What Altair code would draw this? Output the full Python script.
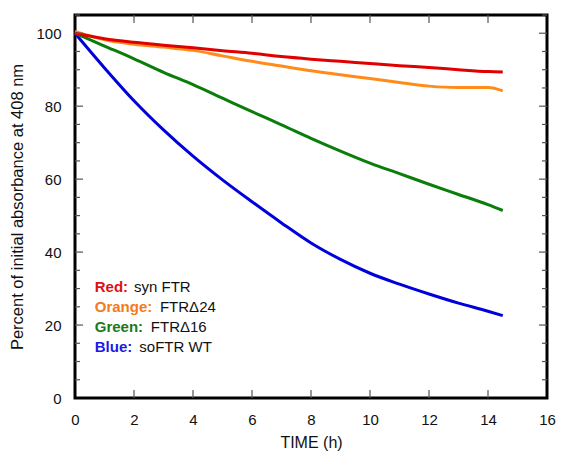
import altair as alt
import pandas as pd

# ---- data ----
hours = [0, 1, 2, 3, 4, 5, 6, 7, 8, 9, 10, 11, 12, 13, 14, 14.5]
red = [100, 98.5, 97.5, 96.7, 96.0, 95.2, 94.5, 93.6, 92.9, 92.3, 91.7, 91.1, 90.6, 90.0, 89.5, 89.4]
orange = [100.5, 98.2, 97.0, 96.2, 95.3, 93.8, 92.3, 91.0, 89.7, 88.6, 87.6, 86.5, 85.5, 85.1, 85.1, 84.2]
green = [100, 96.5, 93.0, 89.3, 85.9, 82.2, 78.5, 74.9, 71.2, 67.7, 64.4, 61.5, 58.6, 55.8, 53.0, 51.4]
blue = [100, 90.5, 81.5, 73.5, 66.3, 59.8, 53.8, 48.0, 42.5, 38.0, 34.2, 31.2, 28.5, 26.0, 23.8, 22.6]

series_names = ["Blue", "Green", "Orange", "Red"]
series_values = [blue, green, orange, red]
line_colors = ["#0000DD", "#0A7D0A", "#FF8C1A", "#E00000"]

legend_prefix = ["Red:", "Orange:", "Green:", "Blue:"]
legend_rest = ["syn FTR", "FTR\u039424", "FTR\u039416", "soFTR WT"]
legend_colors = ["#DD1111", "#F47A20", "#1A7A1A", "#1A1AE6"]
legend_y = [30.4, 24.9, 19.5, 14.0]
legend_x = [0.67, 0.67, 0.67, 0.67]
legend_x2 = [2.0, 2.88, 2.57, 2.18]

x_ticks = [0, 2, 4, 6, 8, 10, 12, 14, 16]
y_major = [0, 20, 40, 60, 80, 100]
y_minor = [5, 10, 15, 25, 30, 35, 45, 50, 55, 65, 70, 75, 85, 90, 95, 105]

W, H = 472, 383
FONT = "Liberation Sans"

xscale = alt.Scale(domain=[0, 16], nice=False, zero=False)
yscale = alt.Scale(domain=[0, 105], nice=False)

xaxis = alt.Axis(values=x_ticks, ticks=False, tickSize=0, domain=False, grid=False,
                 labelFontSize=15, labelFont=FONT, labelColor="#111", labelPadding=14,
                 title="TIME (h)", titleFont=FONT, titleFontSize=16, titleFontWeight="normal",
                 titleColor="#111", titlePadding=7, labelFlush=False)
yaxis = alt.Axis(values=y_major, ticks=False, tickSize=0, domain=False, grid=False,
                 labelFontSize=15, labelFont=FONT, labelColor="#111", labelPadding=14,
                 title="Percent of initial absorbance at 408 nm", titleFont=FONT,
                 titleFontSize=16.5, titleFontWeight="normal", titleColor="#111",
                 titlePadding=10)

X = lambda f: alt.X(f, scale=xscale, axis=xaxis)
Y = lambda f: alt.Y(f, scale=yscale, axis=yaxis)

layers = []
for i, (name, vals) in enumerate(zip(series_names, series_values)):
    df = pd.DataFrame({"t": hours, "v": vals, "s": name})
    layers.append(alt.Chart(df).mark_line(color=line_colors[i], strokeWidth=3,
                                           interpolate="monotone").encode(
        x=X("t:Q"), y=Y("v:Q")))

# inward tick marks on all four sides
xt = pd.DataFrame({"t": x_ticks[1:-1]})
for y0, y1 in [(H, H - 8), (0, 8)]:
    layers.append(alt.Chart(xt).mark_rule(color="#555", strokeWidth=1.2).encode(
        x=X("t:Q"), y=alt.value(y0), y2=alt.value(y1)))
ymaj = pd.DataFrame({"v": y_major[1:]})
ymin = pd.DataFrame({"v": y_minor})
for d, ln in [(ymaj, 8), (ymin, 5)]:
    for x0, x1 in [(0, ln), (W, W - ln)]:
        layers.append(alt.Chart(d).mark_rule(color="#555", strokeWidth=1.2).encode(
            y=Y("v:Q"), x=alt.value(x0), x2=alt.value(x1)))

leg = pd.DataFrame({"p": legend_prefix, "r": legend_rest, "c": legend_colors,
                    "v": legend_y, "t": legend_x, "t2": legend_x2})
layers.append(alt.Chart(leg).mark_text(align="left", baseline="middle", font=FONT,
                                       fontSize=15, fontWeight="bold").encode(
    x=X("t:Q"), y=Y("v:Q"), text="p:N", color=alt.Color("c:N", scale=None)))
layers.append(alt.Chart(leg).mark_text(align="left", baseline="middle", font=FONT,
                                       fontSize=15, color="#111").encode(
    x=alt.X("t2:Q", scale=xscale, axis=xaxis), y=Y("v:Q"), text="r:N"))

chart = alt.layer(*layers).properties(
    width=W, height=H,
    autosize=alt.AutoSizeParams(type="none"),
    padding={"left": 67, "top": 7, "right": 11, "bottom": 53},
    background="white",
).configure_view(stroke="black", strokeWidth=3)

chart.save("out.html", embed_options={"renderer": "svg", "actions": False})
